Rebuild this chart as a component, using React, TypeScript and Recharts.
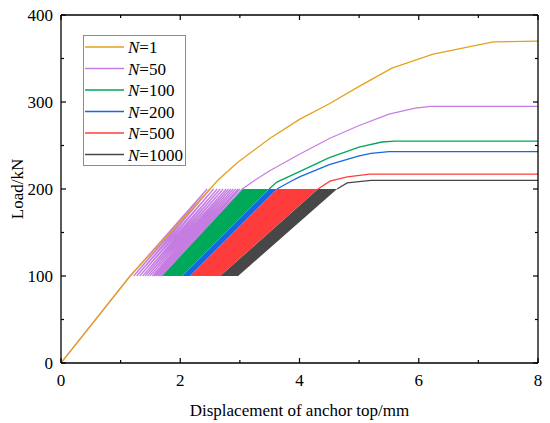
import React from 'react';
import { ComposedChart, Line, Area, XAxis, YAxis, Legend } from 'recharts';

// ---------- data (displacement mm, load kN) ----------
const xTicks = [0, 1, 2, 3, 4, 5, 6, 7, 8];
const xLabelTicks = [0, 2, 4, 6, 8];
const yTicks = [0, 50, 100, 150, 200, 250, 300, 350, 400];
const yLabelTicks = [0, 100, 200, 300, 400];

const cycleMinLoad = 100;
const cycleMaxLoad = 200;

// N=1 monotonic curve
const n1Disp = [0, 1.16, 2.5, 2.63, 2.95, 3.5, 4.0, 4.5, 5.0, 5.55, 6.24, 7.25, 8.0];
const n1Load = [0, 100, 200, 210, 230, 258, 280, 298, 318, 339, 355, 369, 370];

// N=50 : cycle peaks / valleys (displacement), then post-cycle curve
const n50PeakDisp = [2.45, 2.5, 2.56, 2.62, 2.67, 2.72, 2.77, 2.81, 2.85, 2.89, 2.93, 2.97, 3.0, 3.04];
const n50ValleyDisp = [1.22, 1.27, 1.32, 1.37, 1.41, 1.45, 1.49, 1.53, 1.56, 1.59, 1.62, 1.65, 1.68];
const n50PostDisp = [3.25, 3.5, 4.0, 4.5, 5.0, 5.5, 5.94, 6.2, 8.0];
const n50PostLoad = [210, 221, 240, 258, 273, 286, 293, 295, 295];

// cycle bands: [valley start, peak start, peak end, valley end]
const bandLoads = [100, 200, 200, 100];
const n100Band = [1.69, 3.04, 3.49, 2.03];
const n200Band = [2.03, 3.49, 3.62, 2.16];
const n500Band = [2.16, 3.62, 4.31, 2.67];
const n1000Band = [2.67, 4.31, 4.63, 2.97];

const n100PostDisp = [3.49, 3.62, 4.0, 4.5, 5.0, 5.38, 5.6, 8.0];
const n100PostLoad = [200, 208, 220, 236, 248, 254, 255, 255];
const n200PostDisp = [3.62, 3.89, 4.0, 4.5, 5.0, 5.2, 5.5, 8.0];
const n200PostLoad = [200, 210, 214, 228, 238, 241, 243, 243];
const n500PostDisp = [4.31, 4.51, 4.8, 5.18, 8.0];
const n500PostLoad = [200, 209, 214, 217, 217];
const n1000PostDisp = [4.63, 4.8, 5.2, 8.0];
const n1000PostLoad = [200, 207, 210, 210];

const legendNames = ['1', '50', '100', '200', '500', '1000'];
const colors = {
  n1: '#E6A11A',
  n50: '#C67DE2',
  n100: '#00A859',
  n200: '#1468E0',
  n500: '#FF3C3C',
  n1000: '#474747',
};
const legendColors = [colors.n1, colors.n50, colors.n100, colors.n200, colors.n500, colors.n1000];

// ---------- builders ----------
const zip = (xs: number[], ys: number[]) => xs.map((x, i) => ({ x, y: ys[i] }));

const n1Data = zip(n1Disp, n1Load);

const n50Data = (() => {
  const pts: { x: number; y: number }[] = [
    { x: n1Disp[0], y: n1Load[0] },
    { x: n1Disp[1], y: n1Load[1] },
  ];
  n50PeakDisp.forEach((p, i) => {
    pts.push({ x: p, y: cycleMaxLoad });
    if (i < n50ValleyDisp.length) pts.push({ x: n50ValleyDisp[i], y: cycleMinLoad });
  });
  return pts.concat(zip(n50PostDisp, n50PostLoad));
})();

const bandData = (band: number[]) => zip(band, bandLoads);

const FONT = '"Liberation Serif", "Times New Roman", serif';

// ---------- ticks ----------
const BottomTick = (props: any) => {
  const { x, y, payload } = props;
  const major = xLabelTicks.includes(payload.value);
  return (
    <g>
      <line x1={x} y1={y} x2={x} y2={y - (major ? 5 : 3)} stroke="#000" strokeWidth={1.2} />
      {major && (
        <text x={x} y={y + 23} textAnchor="middle" fontFamily={FONT} fontSize={17} fill="#000">
          {payload.value}
        </text>
      )}
    </g>
  );
};
const TopTick = (props: any) => {
  const { x, y, payload } = props;
  const major = xLabelTicks.includes(payload.value);
  return <line x1={x} y1={y} x2={x} y2={y + (major ? 5 : 3)} stroke="#000" strokeWidth={1.2} />;
};
const LeftTick = (props: any) => {
  const { x, y, payload } = props;
  const major = yLabelTicks.includes(payload.value);
  return (
    <g>
      <line x1={x} y1={y} x2={x + (major ? 5 : 3)} y2={y} stroke="#000" strokeWidth={1.2} />
      {major && (
        <text x={x - 8} y={y + 6} textAnchor="end" fontFamily={FONT} fontSize={17} fill="#000">
          {payload.value}
        </text>
      )}
    </g>
  );
};
const RightTick = (props: any) => {
  const { x, y, payload } = props;
  const major = yLabelTicks.includes(payload.value);
  return <line x1={x} y1={y} x2={x - (major ? 5 : 3)} y2={y} stroke="#000" strokeWidth={1.2} />;
};

const LegendBox = () => (
  <svg width={104} height={132} style={{ display: 'block' }}>
    <rect x={0.5} y={0.5} width={102} height={130} fill="#fff" stroke="#8c8c8c" strokeWidth={1} />
    {legendNames.map((n, i) => {
      const cy = 12 + i * 21.5;
      return (
        <g key={n}>
          <line x1={2} y1={cy} x2={41} y2={cy} stroke={legendColors[i]} strokeWidth={1.4} />
          <text x={45} y={cy + 6} fontFamily={FONT} fontSize={17} fill="#000">
            <tspan fontStyle="italic">N</tspan>={n}
          </text>
        </g>
      );
    })}
  </svg>
);

const axisLine = { stroke: '#000', strokeWidth: 1.3 };

export default function App() {
  return (
    <div style={{ position: 'absolute', left: 0, top: 0, width: 550, height: 423, background: '#fff' }}>
      <ComposedChart width={550} height={423} margin={{ top: 0, right: 0, bottom: 0, left: 0 }}>
        <XAxis
          xAxisId={0}
          dataKey="x"
          type="number"
          domain={[0, 8]}
          ticks={xTicks}
          interval={0}
          allowDataOverflow
          height={60}
          tickLine={false}
          tickSize={0}
          tickMargin={0}
          tick={<BottomTick />}
          axisLine={axisLine}
          label={{
            value: 'Displacement of anchor top/mm',
            position: 'insideBottom',
            offset: 7,
            fill: '#000',
            fontFamily: FONT,
            fontSize: 17,
          }}
        />
        <XAxis
          xAxisId="top"
          orientation="top"
          dataKey="x"
          type="number"
          domain={[0, 8]}
          ticks={xTicks}
          interval={0}
          allowDataOverflow
          height={15}
          tickLine={false}
          tickSize={0}
          tickMargin={0}
          tick={<TopTick />}
          axisLine={axisLine}
        />
        <YAxis
          yAxisId={0}
          type="number"
          domain={[0, 400]}
          ticks={yTicks}
          interval={0}
          allowDataOverflow
          width={61}
          tickLine={false}
          tickSize={0}
          tickMargin={0}
          tick={<LeftTick />}
          axisLine={axisLine}
          label={{
            value: 'Load/kN',
            angle: -90,
            position: 'center',
            dx: -14,
            fill: '#000',
            fontFamily: FONT,
            fontSize: 17,
          }}
        />
        <YAxis
          yAxisId="right"
          orientation="right"
          type="number"
          domain={[0, 400]}
          ticks={yTicks}
          interval={0}
          allowDataOverflow
          width={12}
          tickLine={false}
          tickSize={0}
          tickMargin={0}
          tick={<RightTick />}
          axisLine={axisLine}
        />

        {/* N=1000 */}
        <Area data={bandData(n1000Band)} dataKey="y" type="linear" baseValue={100} fill={colors.n1000} fillOpacity={1} stroke="none" dot={false} activeDot={false} isAnimationActive={false} legendType="none" />
        <Line data={zip(n1000PostDisp, n1000PostLoad)} dataKey="y" type="linear" stroke={colors.n1000} strokeWidth={1.3} dot={false} activeDot={false} isAnimationActive={false} name="N=1000" />
        {/* N=500 */}
        <Area data={bandData(n500Band)} dataKey="y" type="linear" baseValue={100} fill={colors.n500} fillOpacity={1} stroke="none" dot={false} activeDot={false} isAnimationActive={false} legendType="none" />
        <Line data={zip(n500PostDisp, n500PostLoad)} dataKey="y" type="linear" stroke={colors.n500} strokeWidth={1.3} dot={false} activeDot={false} isAnimationActive={false} name="N=500" />
        {/* N=200 */}
        <Area data={bandData(n200Band)} dataKey="y" type="linear" baseValue={100} fill={colors.n200} fillOpacity={1} stroke="none" dot={false} activeDot={false} isAnimationActive={false} legendType="none" />
        <Line data={zip(n200PostDisp, n200PostLoad)} dataKey="y" type="linear" stroke={colors.n200} strokeWidth={1.3} dot={false} activeDot={false} isAnimationActive={false} name="N=200" />
        {/* N=100 */}
        <Area data={bandData(n100Band)} dataKey="y" type="linear" baseValue={100} fill={colors.n100} fillOpacity={1} stroke="none" dot={false} activeDot={false} isAnimationActive={false} legendType="none" />
        <Line data={zip(n100PostDisp, n100PostLoad)} dataKey="y" type="linear" stroke={colors.n100} strokeWidth={1.3} dot={false} activeDot={false} isAnimationActive={false} name="N=100" />
        {/* N=50 */}
        <Line data={n50Data} dataKey="y" type="linear" stroke={colors.n50} strokeWidth={1.2} dot={false} activeDot={false} isAnimationActive={false} name="N=50" />
        {/* N=1 */}
        <Line data={n1Data} dataKey="y" type="linear" stroke={colors.n1} strokeWidth={1.3} dot={false} activeDot={false} isAnimationActive={false} name="N=1" />

        <Legend
          layout="vertical"
          align="center"
          verticalAlign="middle"
          wrapperStyle={{ left: 83, top: 35, width: 104, height: 132 }}
          content={() => <LegendBox />}
        />
      </ComposedChart>
    </div>
  );
}
